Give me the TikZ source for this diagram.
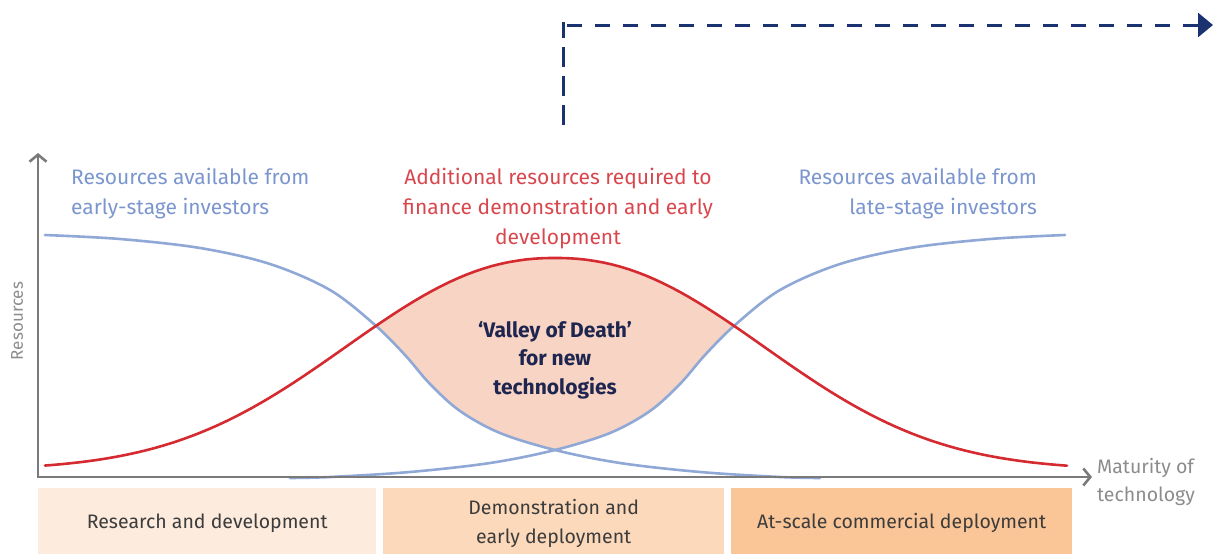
\documentclass[tikz,border=0pt]{standalone}
\usepackage{fontspec}
\setmainfont{Fira Sans}
\usetikzlibrary{arrows.meta}

\definecolor{curveblue}{HTML}{8FA8D6}
\definecolor{textblue}{HTML}{7B96CE}
\definecolor{curvered}{HTML}{D42A30}
\definecolor{textred}{HTML}{D9474E}
\definecolor{valleyfill}{HTML}{F7D4C4}
\definecolor{navytext}{HTML}{1E2650}
\definecolor{axisgrey}{HTML}{7A7A7A}
\definecolor{labelgrey}{HTML}{8C8C8C}
\definecolor{boxtext}{HTML}{3C3C3C}
\definecolor{stageA}{HTML}{FDEBDD}
\definecolor{stageB}{HTML}{FCD9BB}
\definecolor{stageC}{HTML}{FAC697}
\definecolor{pathnavy}{HTML}{1A3370}

\tikzset{
  curve/.style={line width=2.6pt, line cap=round},
  axisline/.style={draw=axisgrey, line width=2.6pt},
  caption/.style={inner sep=0pt, font=\fontsize{21}{30}\selectfont},
  stagebox/.style={inner sep=0pt, minimum height=70pt, text=boxtext,
    font=\fontsize{19.5}{29}\selectfont, align=center},
  route/.style={draw=pathnavy, line width=3pt},
}

% red curve: additional resources needed
\newcommand{\redcurve}{plot[domain=45:1067, samples=120]
  (\x, {470 - 212*exp(-pow(abs((\x-555)/276),2.2))})}
% blue curve: early-stage investors
\newcommand{\earlycurve}{plot[smooth, tension=0.55] coordinates {
  (45,235) (120,239) (200,248) (270,264) (330,290) (375,325) (405,355)
  (430,384) (460,411) (500,433) (555,450) (620,463) (700,472) (780,477) (820,478)}}
% blue curve: late-stage investors (mirror of the early curve)
\newcommand{\latecurve}{plot[smooth, tension=0.55] coordinates {
  (1065,235) (990,239) (910,248) (840,264) (780,290) (735,325) (705,355)
  (680,384) (650,411) (610,433) (555,450) (490,463) (410,472) (330,477) (290,478)}}

\begin{document}
\begin{tikzpicture}[x=1pt, y=-1pt]
\useasboundingbox (0,0) rectangle (1213,554);

% stage boxes along the maturity axis
\node[stagebox, fill=stageA, minimum width=338pt, anchor=north west] (rd) at (38,488)
  {Research and development};
\node[stagebox, fill=stageB, minimum width=341pt, anchor=north west] (demo) at (383,488)
  {Demonstration and\\early deployment};
\node[stagebox, fill=stageC, minimum width=341pt, anchor=north west] (scale) at (731,488)
  {At-scale commercial deployment};

% the valley between the curves
\begin{scope}
  \clip \redcurve -- (1067,560) -- (45,560) -- cycle;
  \clip \earlycurve -- (820,0) -- (45,0) -- cycle;
  \clip \latecurve -- (290,0) -- (1065,0) -- cycle;
  \fill[valleyfill] (0,0) rectangle (1213,554);
\end{scope}

\draw[curve, curveblue] \earlycurve;
\draw[curve, curveblue] \latecurve;
\draw[curve, curvered] \redcurve;

% axes
\coordinate (ytip) at (38,153);
\coordinate (origin) at (38,477);
\coordinate (xtip) at (1092,477);
\draw[axisline, {Straight Barb[length=7pt,width=17pt]}-{Straight Barb[length=7pt,width=17pt]}]
  (ytip) -- (origin) -- (xtip);

\node[labelgrey, rotate=90, font=\fontsize{17}{20}\selectfont, inner sep=0pt] (ylab) at (17,321) {Resources};
\node[labelgrey, caption, font=\fontsize{19.5}{28}\selectfont, align=left, anchor=north west] (xlab) at (1097,458)
  {Maturity of\\technology};

% curve captions
\node[caption, textblue, align=left, anchor=north west] (early) at (71,168)
  {Resources available from\\early-stage investors};
\node[caption, textred, align=center, anchor=north] (extra) at (558,168)
  {Additional resources required to\\finance demonstration and early\\development};
\node[caption, textblue, align=right, anchor=north east] (late) at (1037,168)
  {Resources available from\\late-stage investors};
\node[caption, navytext, align=center, anchor=north, font=\bfseries\fontsize{21}{28.5}\selectfont] (valley) at (555,321)
  {`Valley of Death'\\for new\\technologies};

% dashed route to the next stage
\coordinate (r0) at (563,125);
\coordinate (r1) at (563,22);
\coordinate (r2) at (567,25);
\coordinate (r3) at (1213,25);
\draw[route, dash pattern=on 20pt off 9pt] (r0) -- (r1);
\draw[route, dash pattern=on 15pt off 13pt, -{Triangle[length=15pt,width=24pt]}] (r2) -- (r3);
\end{tikzpicture}
\end{document}
